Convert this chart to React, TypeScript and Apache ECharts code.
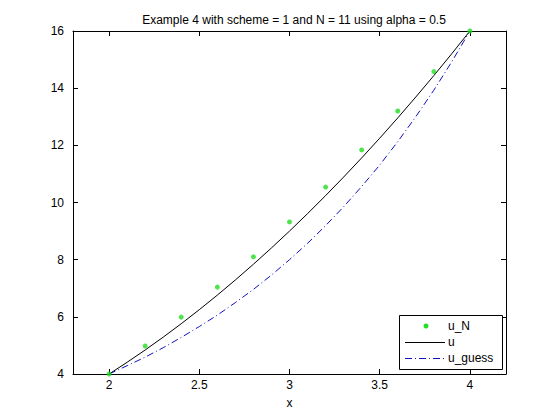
import React, { useEffect, useRef } from "react";
import * as echarts from "echarts";

const titleText = "Example 4 with scheme = 1 and N = 11 using alpha = 0.5";
const xLabel = "x";

// discrete solution points
const nodesX = [2, 2.2, 2.4, 2.6, 2.8, 3.0, 3.2, 3.4, 3.6, 3.8, 4.0];
const uN = [4, 4.98, 5.99, 7.04, 8.1, 9.32, 10.54, 11.84, 13.2, 14.58, 16];

// fine grid for curves
const fineX = [2, 2.1, 2.2, 2.3, 2.4, 2.5, 2.6, 2.7, 2.8, 2.9, 3.0, 3.1, 3.2, 3.3, 3.4, 3.5, 3.6, 3.7, 3.8, 3.9, 4.0];
const uExact = [4, 4.41, 4.84, 5.29, 5.76, 6.25, 6.76, 7.29, 7.84, 8.41, 9, 9.61, 10.24, 10.89, 11.56, 12.25, 12.96, 13.69, 14.44, 15.21, 16];
const uGuess = [4, 4.29, 4.59, 4.92, 5.28, 5.66, 6.06, 6.5, 6.96, 7.46, 8, 8.57, 9.19, 9.85, 10.56, 11.31, 12.13, 13.0, 13.93, 14.93, 16];

const xTicks = [2, 2.5, 3, 3.5, 4];
const yTicks = [4, 6, 8, 10, 12, 14, 16];
const legendNames = ["u_N", "u", "u_guess"];

const FONT = "'Liberation Sans', Arial, sans-serif";
const FS = 12;
const GREEN = "#22dd22";
const BLUE = "#1010c0";
const DASHDOT = [7, 3, 1, 3];

export default function App() {
  const ref = useRef<HTMLDivElement>(null);
  useEffect(() => {
    if (!ref.current) return;
    const chart = echarts.init(ref.current, undefined, { renderer: "svg" });
    const axisLine = { show: true, lineStyle: { color: "#000", width: 1 } };
    const tick = (vals: number[]) => ({
      show: true,
      inside: true,
      length: 5,
      lineStyle: { color: "#000" },
      customValues: vals,
    });
    const txt = (text: string, y: number) => ({
      type: "text",
      x: 448,
      y,
      style: { text, fill: "#000", font: `${FS}px ${FONT}`, textVerticalAlign: "middle" },
    });
    chart.setOption({
      animation: false,
      backgroundColor: "#ffffff",
      title: {
        text: titleText,
        left: 289,
        textAlign: "center",
        top: 9,
        textStyle: { fontFamily: FONT, fontSize: FS, fontWeight: "normal", color: "#000" },
      },
      grid: { left: 73, right: 54, top: 31, bottom: 46, containLabel: false },
      xAxis: [
        {
          type: "value",
          min: 1.8,
          max: 4.2,
          axisLine,
          splitLine: { show: false },
          axisTick: tick(xTicks),
          axisLabel: {
            show: true,
            fontFamily: FONT,
            fontSize: FS,
            color: "#000",
            margin: 5,
            customValues: xTicks,
            formatter: (v: number) => String(v),
          },
          name: xLabel,
          nameLocation: "middle",
          nameGap: 23,
          nameTextStyle: { fontFamily: FONT, fontSize: FS, color: "#000" },
        },
        {
          type: "value",
          position: "top",
          min: 1.8,
          max: 4.2,
          axisLine,
          splitLine: { show: false },
          axisLabel: { show: false },
          axisTick: tick(xTicks),
        },
      ],
      yAxis: [
        {
          type: "value",
          min: 4,
          max: 16,
          axisLine,
          splitLine: { show: false },
          axisTick: tick(yTicks),
          axisLabel: {
            show: true,
            fontFamily: FONT,
            fontSize: FS,
            color: "#000",
            margin: 9,
            customValues: yTicks,
          },
        },
        {
          type: "value",
          position: "right",
          min: 4,
          max: 16,
          axisLine,
          splitLine: { show: false },
          axisLabel: { show: false },
          axisTick: tick(yTicks),
        },
      ],
      graphic: [
        {
          type: "rect",
          shape: { x: 399.5, y: 315.5, width: 103, height: 54 },
          style: { fill: "#fff", stroke: "#000", lineWidth: 1 },
          z: 100,
        },
        {
          type: "circle",
          shape: { cx: 426, cy: 326, r: 2.5 },
          style: { fill: GREEN },
          z: 101,
        },
        {
          type: "line",
          shape: { x1: 405, y1: 342.5, x2: 445, y2: 342.5 },
          style: { stroke: "#000", lineWidth: 1 },
          z: 101,
        },
        {
          type: "line",
          shape: { x1: 405, y1: 358.5, x2: 445, y2: 358.5 },
          style: { stroke: BLUE, lineWidth: 1, lineDash: DASHDOT },
          z: 101,
        },
        { ...txt(legendNames[0], 326), z: 101 },
        { ...txt(legendNames[1], 342), z: 101 },
        { ...txt(legendNames[2], 358), z: 101 },
      ],
      series: [
        {
          name: legendNames[0],
          type: "scatter",
          symbol: "circle",
          symbolSize: 5,
          itemStyle: { color: GREEN },
          data: nodesX.map((x, i) => [x, uN[i]]),
          z: 5,
        },
        {
          name: legendNames[1],
          type: "line",
          showSymbol: false,
          symbol: "none",
          lineStyle: { color: "#000", width: 1 },
          itemStyle: { color: "#000" },
          data: fineX.map((x, i) => [x, uExact[i]]),
        },
        {
          name: legendNames[2],
          type: "line",
          showSymbol: false,
          symbol: "none",
          lineStyle: { color: BLUE, width: 1, type: DASHDOT },
          itemStyle: { color: BLUE },
          data: fineX.map((x, i) => [x, uGuess[i]]),
        },
      ],
    });
    return () => chart.dispose();
  }, []);
  return <div ref={ref} style={{ width: 560, height: 420, position: "absolute", left: 0, top: 0 }} />;
}
